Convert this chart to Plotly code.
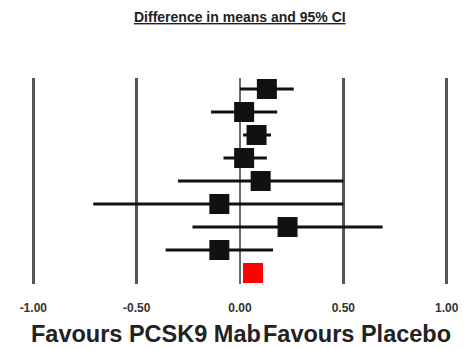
import plotly.graph_objects as go

# Study-level differences in means with 95% confidence limits (top to bottom)
rows = [1, 2, 3, 4, 5, 6, 7, 8, 9]
mean_diff = [0.13, 0.02, 0.08, 0.02, 0.10, -0.10, 0.23, -0.10, 0.063]
ci_low = [0.00, -0.14, 0.015, -0.08, -0.30, -0.71, -0.23, -0.36, 0.03]
ci_high = [0.26, 0.18, 0.15, 0.13, 0.50, 0.50, 0.69, 0.16, 0.10]
marker_colors = ["#111111"] * 8 + ["#ff0000"]

tick_values = [-1.0, -0.5, 0.0, 0.5, 1.0]
tick_text = ["-1.00", "-0.50", "0.00", "0.50", "1.00"]

W, H = 472, 349
top, bottom = 78, 284  # plot area in pixels
FONT = "Liberation Sans, Arial, sans-serif"

fig = go.Figure()
fig.add_trace(go.Scatter(
    x=mean_diff,
    y=rows,
    mode="markers",
    marker=dict(symbol="square", size=20, color=marker_colors, line=dict(width=0)),
    error_x=dict(
        type="data",
        symmetric=False,
        array=[h - m for h, m in zip(ci_high, mean_diff)],
        arrayminus=[m - l for m, l in zip(mean_diff, ci_low)],
        color="#111111",
        thickness=3,
        width=0,
    ),
    showlegend=False,
    hoverinfo="skip",
))

# x axis: -1 at 33.3 px, +1 at 446.7 px across the full width
px_per_unit = (446.7 - 33.3) / 2
x0 = -1 - 33.3 / px_per_unit
x1 = 1 + (W - 446.7) / px_per_unit

fig.update_xaxes(
    range=[x0, x1],
    tickvals=tick_values,
    ticktext=["<b>%s</b>" % t for t in tick_text],
    showgrid=True,
    gridcolor="#555555",
    gridwidth=3,
    zeroline=True,
    zerolinecolor="#6a6a6a",
    zerolinewidth=2,
    showline=False,
    ticks="",
    ticklabelstandoff=15,
    tickfont=dict(family=FONT, size=12, color="#333333"),
)

row_step = 23
pad = 11 / row_step
fig.update_yaxes(
    range=[rows[-1] + pad, rows[0] - pad],
    showgrid=False,
    zeroline=False,
    showticklabels=False,
    showline=False,
)

fig.add_annotation(
    text="<b><u>Difference in means and 95% CI</u></b>",
    xref="paper", yref="paper",
    x=240 / W, y=1 + (top - 17) / (bottom - top),
    xanchor="center", yanchor="middle",
    showarrow=False,
    font=dict(family=FONT, size=14, color="#222222"),
)
label_y = -(334 - bottom) / (bottom - top)
fig.add_annotation(
    text="<b>Favours PCSK9 Mab</b>",
    xref="paper", yref="paper",
    x=146 / W, y=label_y,
    xanchor="center", yanchor="middle",
    showarrow=False,
    font=dict(family=FONT, size=23.5, color="#222222"),
)
fig.add_annotation(
    text="<b>Favours Placebo</b>",
    xref="paper", yref="paper",
    x=357 / W, y=label_y,
    xanchor="center", yanchor="middle",
    showarrow=False,
    font=dict(family=FONT, size=23.5, color="#222222"),
)

fig.update_layout(
    width=W,
    height=H,
    margin=dict(l=0, r=0, t=top, b=H - bottom, pad=0),
    paper_bgcolor="white",
    plot_bgcolor="white",
)

fig.write_html("out.html")
